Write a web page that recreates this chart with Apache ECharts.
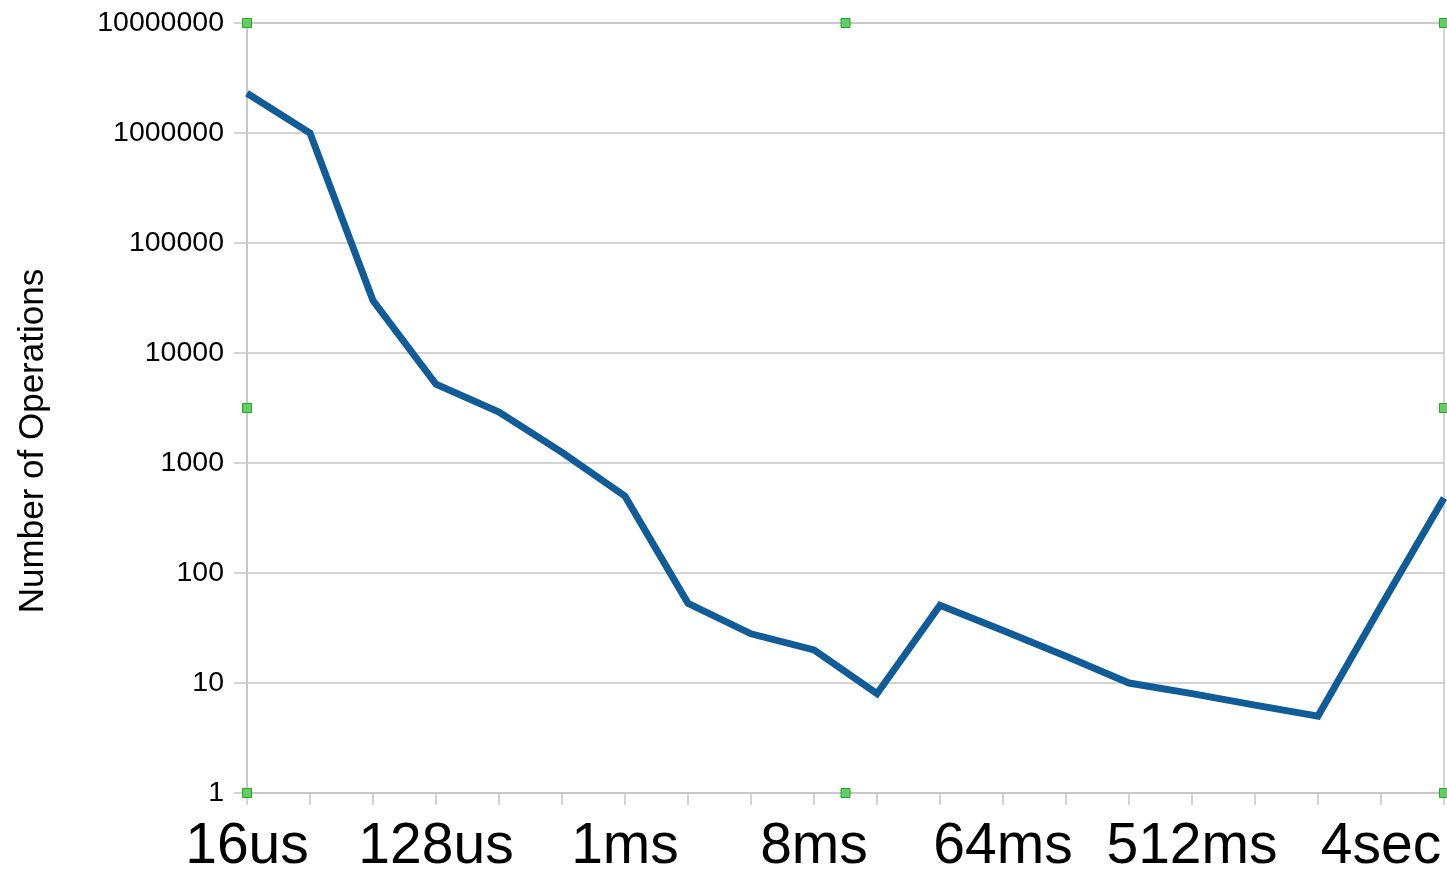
<!DOCTYPE html>
<html>
<head>
<meta charset="utf-8">
<title>Number of Operations by latency</title>
<script src="https://cdn.jsdelivr.net/npm/echarts@6/dist/echarts.min.js"></script>
<style>
  html, body { margin: 0; padding: 0; background: #ffffff; }
  #chart { width: 1447px; height: 871px; }
</style>
</head>
<body>
<div id="chart"></div>
<script>
// Latency buckets (powers of two) and operation counts per bucket
const latencyBuckets = ['16us', '32us', '64us', '128us', '256us', '512us', '1ms', '2ms', '4ms', '8ms',
  '16ms', '32ms', '64ms', '128ms', '256ms', '512ms', '1sec', '2sec', '4sec', '8sec'];
const operationCounts = [2300000, 1000000, 30000, 5200, 2900, 1250, 500, 53, 28, 20,
  8, 51, 30, 17.5, 10, 8, 6.3, 5, 50, 480];
const yAxisTitle = 'Number of Operations';

// Plot area placement in pixels
const plot = { left: 247, top: 23, right: 3, bottom: 78 };
const W = 1447, H = 871;
const gray = '#c6c6c6';
const font = '"Liberation Sans", Arial, sans-serif';

const chart = echarts.init(document.getElementById('chart'), null, { renderer: 'canvas' });

// Green selection handles on the corners and edge midpoints of the plot frame
const x0 = plot.left, x1 = W - plot.right, y0 = plot.top, y1 = H - plot.bottom;
const xm = (x0 + x1) / 2, ym = (y0 + y1) / 2;
const handlePts = [[x0, y0], [xm, y0], [x1, y0], [x0, ym], [x1, ym], [x0, y1], [xm, y1], [x1, y1]];
const handles = handlePts.map(p => ({
  type: 'rect',
  shape: { x: p[0] - 4.5, y: p[1] - 4.5, width: 9, height: 9 },
  style: { fill: '#66cc66', stroke: '#22aa22', lineWidth: 1 },
  z: 100
}));

chart.setOption({
  animation: false,
  backgroundColor: '#ffffff',
  grid: {
    left: plot.left, top: plot.top, right: plot.right, bottom: plot.bottom,
    show: true, borderColor: gray, borderWidth: 1.5,
    containLabel: false, outerBoundsMode: 'none'
  },
  xAxis: {
    type: 'category',
    data: latencyBuckets,
    boundaryGap: false,
    axisLine: { lineStyle: { color: gray, width: 1.5 } },
    axisTick: { show: true, interval: 0, length: 12, lineStyle: { color: gray, width: 1.5 } },
    axisLabel: {
      interval: 2, margin: 26, color: '#000000',
      fontFamily: font, fontSize: 57
    },
    splitLine: { show: false }
  },
  yAxis: {
    type: 'log',
    logBase: 10,
    min: 1,
    max: 10000000,
    interval: 1,
    name: yAxisTitle,
    nameLocation: 'middle',
    nameGap: 196,
    nameRotate: 90,
    nameTextStyle: { color: '#000000', fontFamily: font, fontSize: 35, padding: [0, 66, 0, 0] },
    axisLine: { show: true, lineStyle: { color: gray, width: 1.5 } },
    axisTick: { show: true, length: 13, lineStyle: { color: gray, width: 1.5 } },
    axisLabel: {
      margin: 23, color: '#000000', fontFamily: font, fontSize: 28.5,
      formatter: v => String(Math.round(v))
    },
    splitLine: { show: true, lineStyle: { color: gray, width: 1.5 } },
    minorSplitLine: { show: false }
  },
  series: [{
    type: 'line',
    data: operationCounts,
    showSymbol: false,
    symbol: 'none',
    lineStyle: { color: '#0f5c99', width: 7, join: 'miter' },
    z: 5
  }],
  graphic: handles
});
</script>
</body>
</html>
